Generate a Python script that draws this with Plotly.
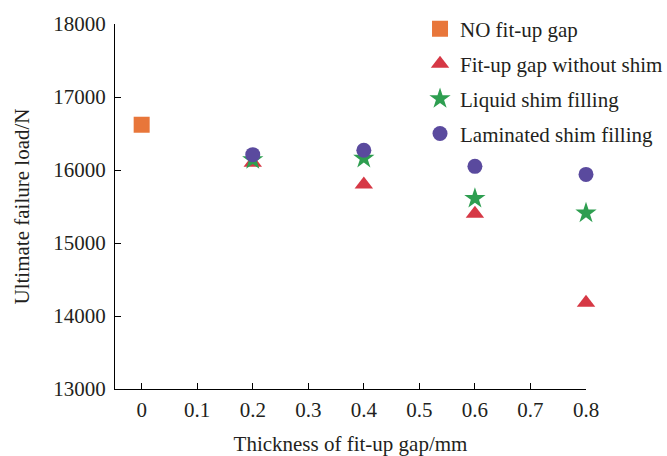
import plotly.graph_objects as go

x_nogap = [0]
y_nogap = [16620]
x_gap = [0.2, 0.4, 0.6, 0.8]
y_without_shim = [16100, 15800, 15400, 14180]
y_liquid = [16140, 16160, 15610, 15410]
y_laminated = [16210, 16270, 16050, 15940]
x_ticks = [0, 0.1, 0.2, 0.3, 0.4, 0.5, 0.6, 0.7, 0.8]
x_ticklabels = ["0", "0.1", "0.2", "0.3", "0.4", "0.5", "0.6", "0.7", "0.8"]
y_ticks = [13000, 14000, 15000, 16000, 17000, 18000]
y_ticklabels = ["13000", "14000", "15000", "16000", "17000", "18000"]

FONT = "Liberation Serif"
TXT = "#231F20"
FS = 21

fig = go.Figure()
fig.add_trace(go.Scatter(x=x_nogap, y=y_nogap, mode="markers", name="NO fit-up gap",
                         legendgroup="a",
                         marker=dict(symbol="square", size=16, color="#E8763A"), cliponaxis=False))
fig.add_trace(go.Scatter(x=x_gap, y=y_without_shim, mode="markers", name="Fit-up gap without shim",
                         legendgroup="b",
                         marker=dict(symbol="triangle-up", size=16, color="#D63845"), cliponaxis=False))
fig.add_trace(go.Scatter(x=x_gap, y=y_liquid, mode="markers", name="Liquid shim filling",
                         legendgroup="c",
                         marker=dict(symbol="star", size=16, color="#2E9E50"), cliponaxis=False))
fig.add_trace(go.Scatter(x=x_gap, y=y_laminated, mode="markers", name="Laminated shim filling",
                         legendgroup="d",
                         marker=dict(symbol="circle", size=15, color="#5A4A9E"), cliponaxis=False))

axis_common = dict(showline=True, linecolor="black", linewidth=1, ticks="inside", ticklen=6,
                   tickcolor="black", tickwidth=1, showgrid=False, zeroline=False, automargin=False,
                   tickfont=dict(family=FONT, size=FS, color=TXT))

fig.update_layout(
    width=667, height=456,
    margin=dict(l=115, r=81, t=24, b=67, autoexpand=False),
    paper_bgcolor="white", plot_bgcolor="white",
    font=dict(family=FONT, size=FS, color=TXT),
    xaxis=dict(range=[-0.048, 0.8], tickvals=x_ticks, ticktext=x_ticklabels,
               title=dict(text="Thickness of fit-up gap/mm", font=dict(family=FONT, size=FS, color=TXT), standoff=16),
               ticklabelstandoff=2, **axis_common),
    yaxis=dict(range=[13000, 18000], tickvals=y_ticks, ticktext=y_ticklabels,
               title=dict(text="Ultimate failure load/N", font=dict(family=FONT, size=FS, color=TXT), standoff=17),
               ticklabelstandoff=4, **axis_common),
    legend=dict(x=0.6476, y=1.042, xanchor="left", yanchor="top", bgcolor="rgba(0,0,0,0)",
                font=dict(family=FONT, size=FS, color=TXT), tracegroupgap=4.6, itemsizing="trace"),
    showlegend=True,
)

fig.write_html("out.html", config={"displayModeBar": False},
               post_script="document.body.style.margin='0';document.body.style.overflow='hidden';")
